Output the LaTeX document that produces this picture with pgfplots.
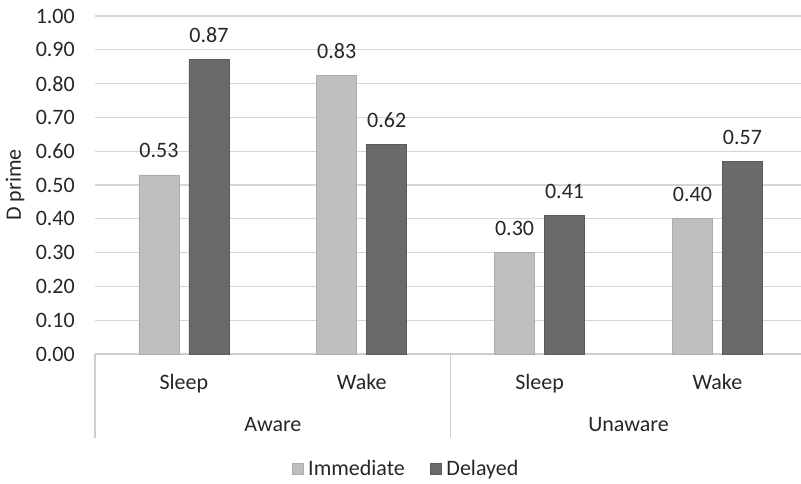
\documentclass[border=0pt]{standalone}
\usepackage{pgfplots}
\pgfplotsset{compat=1.18}
\usepackage{fontspec}
\setmainfont{Carlito}
\definecolor{immc}{RGB}{191,191,191}
\definecolor{delc}{RGB}{106,106,106}
\definecolor{gridc}{RGB}{214,214,214}
\definecolor{txtc}{RGB}{38,38,38}
\begin{document}
\begin{tikzpicture}
\useasboundingbox (-95pt,-130pt) rectangle (706pt,354pt);
\begin{axis}[
  scale only axis,
  width=706pt, height=338pt,
  at={(0pt,0pt)}, anchor=south west,
  font=\fontsize{22}{26}\selectfont,
  /pgf/number format/assume math mode=true,
  ybar=10pt, bar width=40pt,
  xmin=-0.5, xmax=3.47,
  ymin=0, ymax=1,
  ytick={0,0.1,...,1.0},
  yticklabel style={/pgf/number format/fixed, /pgf/number format/fixed zerofill, /pgf/number format/precision=2, anchor=east, inner sep=0pt, xshift=-20pt, text=txtc},
  xtick={0,1,2,3},
  xticklabels={Sleep,Wake,Sleep,Wake},
  xticklabel style={anchor=base, yshift=-36pt, text=txtc},
  major tick length=0pt,
  extra x ticks={-0.5,1.5},
  extra x tick labels={},
  extra x tick style={major tick length=84pt, tick align=outside, grid=none, tick style={draw=gridc!120, line width=1.3pt}},
  ymajorgrids, grid style={draw=gridc, line width=1.3pt},
  axis x line*=bottom,
  axis y line*=left,
  x axis line style={draw=gridc!120, line width=1.3pt, -},
  y axis line style={draw=none},
  ylabel={D prime},
  ylabel style={at={(rel axis cs:0,0.5)}, anchor=center, rotate=0, yshift=80pt, text=txtc},
  nodes near coords,
  nodes near coords style={/pgf/number format/fixed, /pgf/number format/fixed zerofill, /pgf/number format/precision=2, anchor=base, yshift=17pt, text=txtc, inner sep=0pt},
  legend style={at={(0.4405,-0.340)}, anchor=center, draw=none, fill=none, legend columns=2, font=\fontsize{22}{26}\selectfont, text=txtc, /tikz/column 2/.style={column sep=23pt}},
  legend image code/.code={\path (0pt,0pt) (14pt,0pt); \fill[#1] (0pt,-5.5pt) rectangle (11pt,5.5pt);},
  clip=false,
]
\addplot[fill=immc, draw=immc!90!black, line width=0.6pt] coordinates {(0,0.53) (1,0.825) (2,0.30) (3,0.40)};
\addplot[fill=delc, draw=delc!85!black, line width=0.6pt] coordinates {(0,0.872) (1,0.62) (2,0.41) (3,0.57)};
\legend{Immediate,Delayed}
\node[anchor=base, text=txtc] at (axis cs:0.5,0) [yshift=-78pt] {Aware};
\node[anchor=base, text=txtc] at (axis cs:2.5,0) [yshift=-78pt] {Unaware};
\end{axis}
\end{tikzpicture}
\end{document}
